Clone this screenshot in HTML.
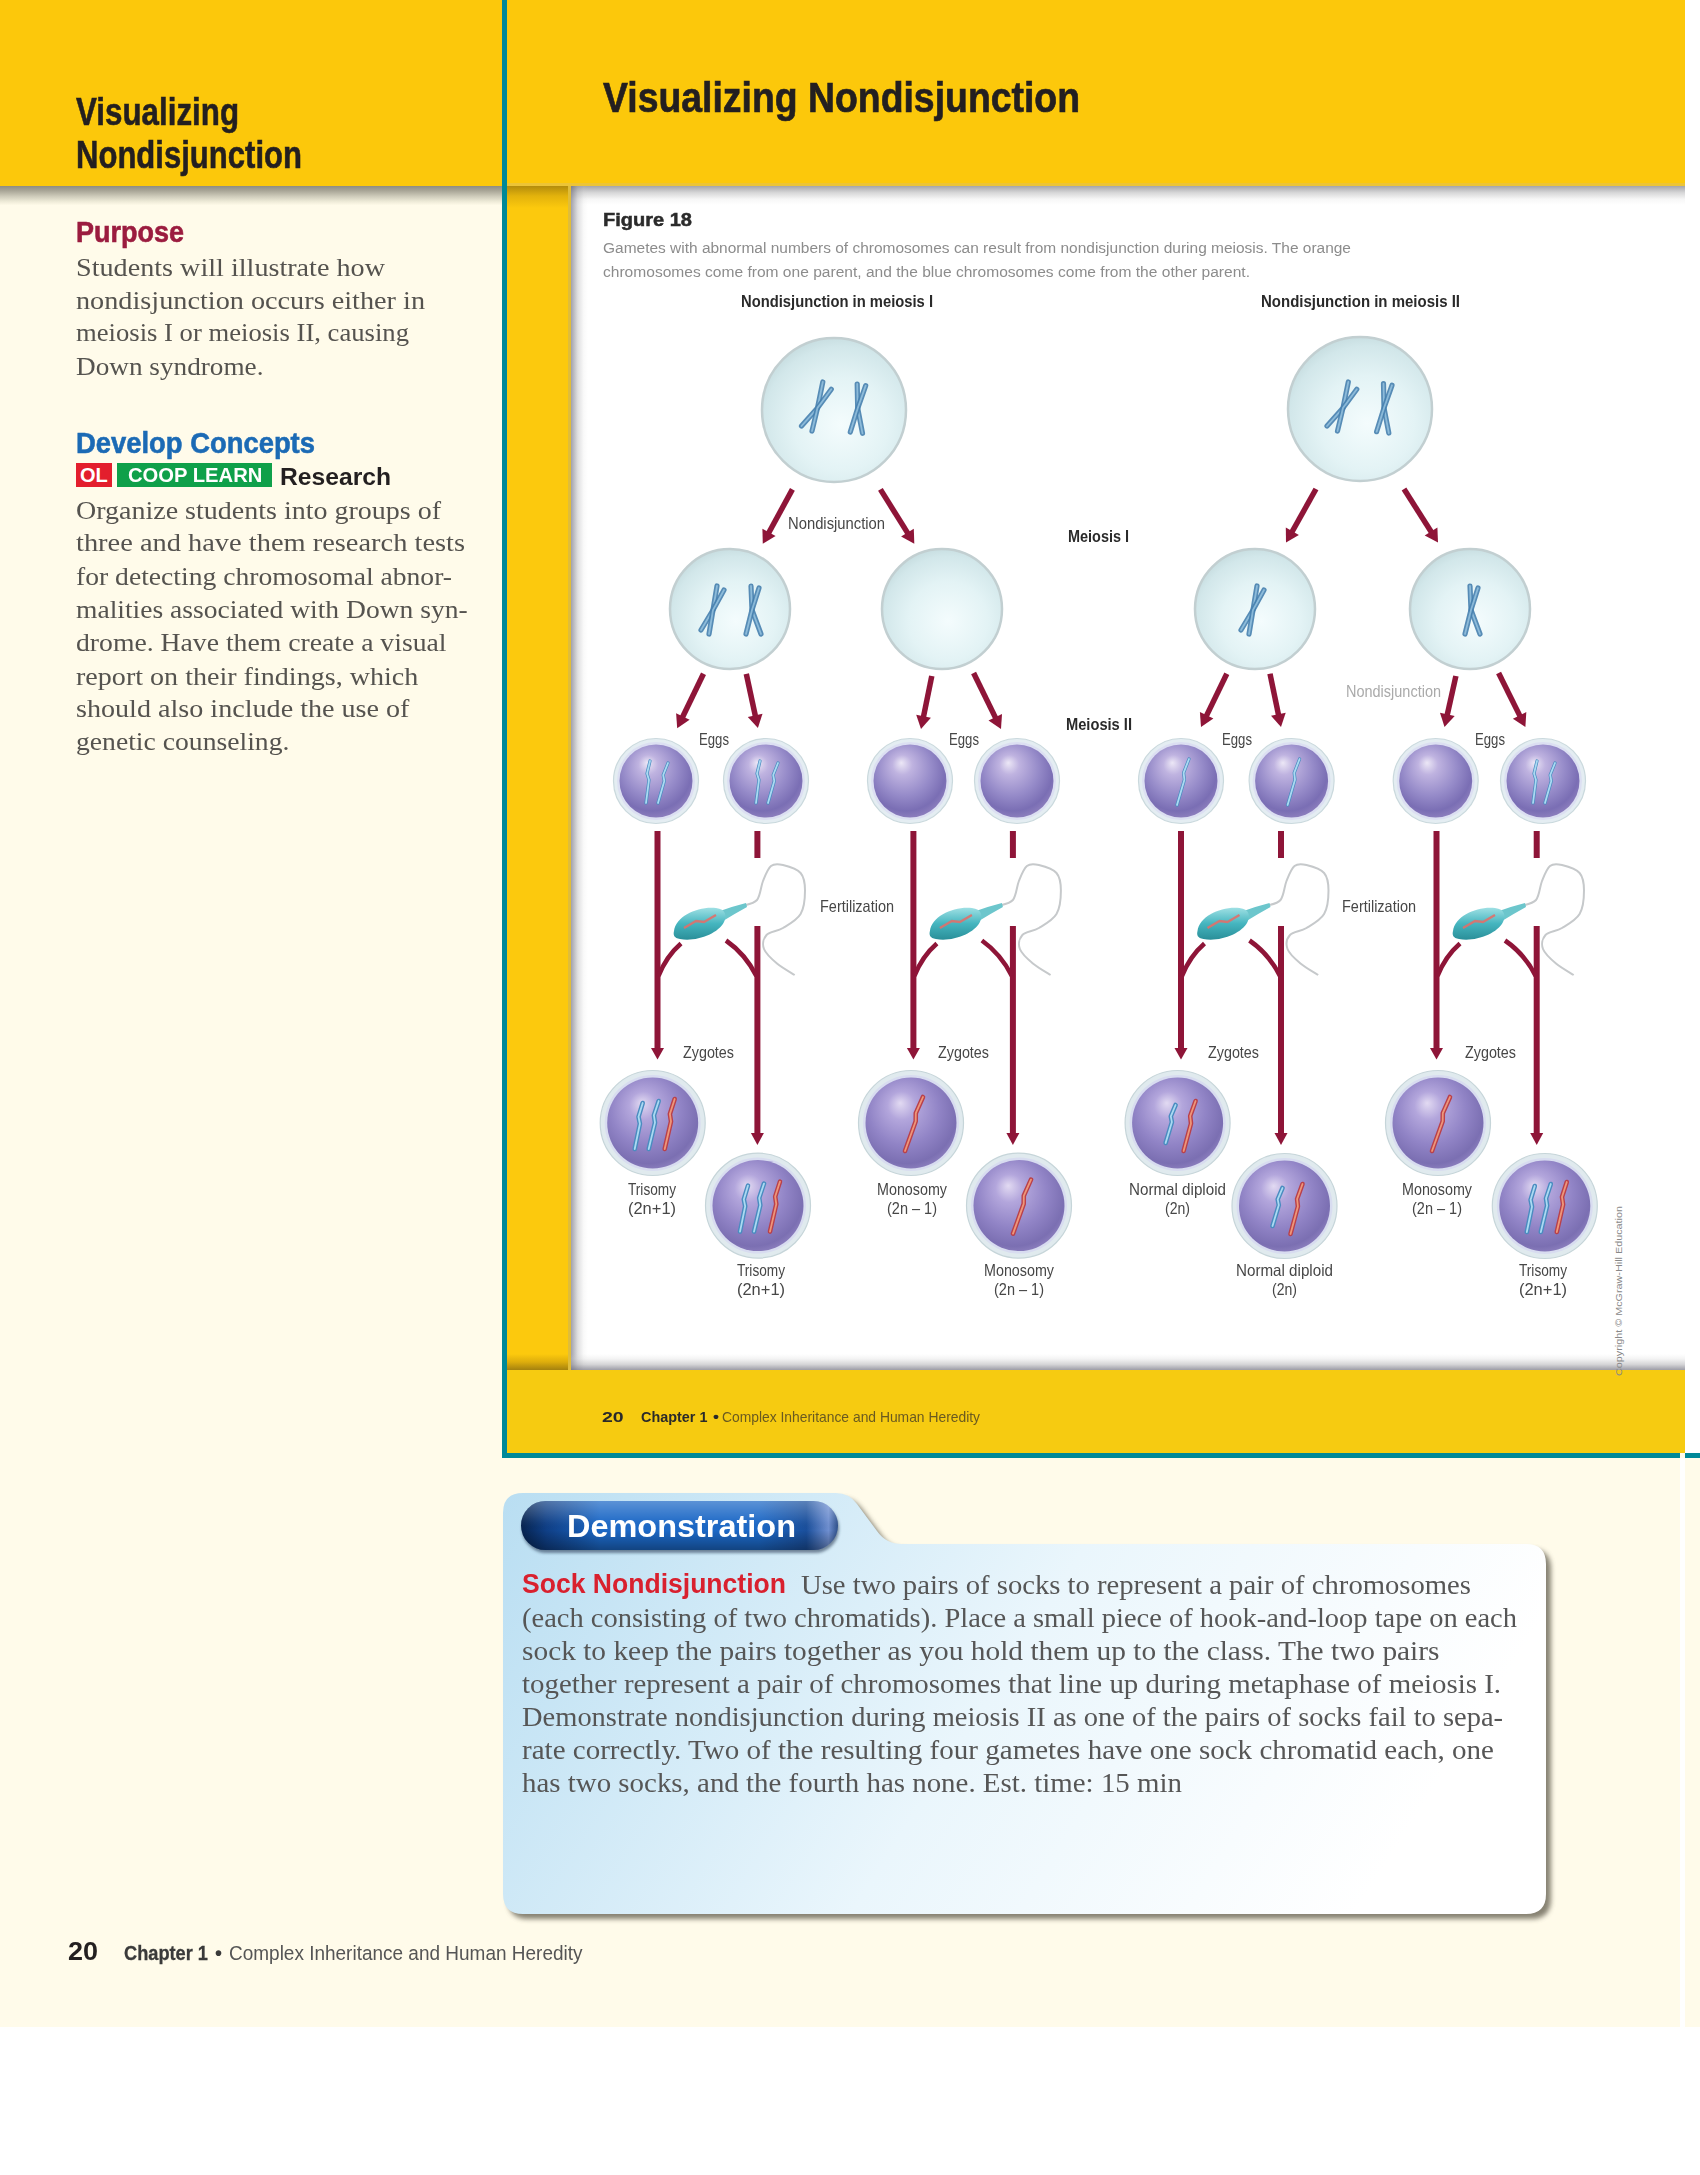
<!DOCTYPE html>
<html><head><meta charset="utf-8">
<style>
html,body{margin:0;padding:0;}
body{width:1700px;height:2175px;position:relative;overflow:hidden;background:#fff;font-family:"Liberation Sans",sans-serif;}
.a{position:absolute;}
.t{position:absolute;white-space:nowrap;line-height:1;}
</style></head><body>
<!-- cream page background -->
<div class="a" style="left:0;top:0;width:1700px;height:2027px;background:#fffbea;"></div>
<div class="a" style="left:1680px;top:1458px;width:5px;height:569px;background:#fff;"></div>
<!-- header yellow -->
<div class="a" style="left:0;top:0;width:1685px;height:186px;background:#fcc80b;"></div>
<div class="a" style="left:507px;top:183px;width:1178px;height:3px;background:#ecc436;"></div>
<div class="a" style="left:1685px;top:0;width:15px;height:1453px;background:#fff;"></div>
<!-- left header shadow -->
<div class="a" style="left:0;top:186px;width:502px;height:19px;background:linear-gradient(#8f8d80,#a9a697 25%,#cfccbb 55%,#ece9d6 80%,#fefae8);"></div>

<!-- inset: yellow strip -->
<div class="a" style="left:507px;top:186px;width:61px;height:1184px;background:#fcc90d;"></div>
<div class="a" style="left:507px;top:186px;width:61px;height:22px;background:linear-gradient(rgba(120,90,10,.55),rgba(150,110,10,.25) 45%,rgba(252,201,13,0));"></div>
<div class="a" style="left:507px;top:1354px;width:61px;height:16px;background:linear-gradient(rgba(150,110,10,0),rgba(150,110,10,.3) 50%,rgba(110,85,15,.62));"></div>
<div class="a" style="left:568px;top:186px;width:3px;height:1184px;background:#e0bd3a;"></div>
<!-- white figure area -->
<div class="a" style="left:571px;top:186px;width:1129px;height:1184px;background:#fff;"></div>
<div class="a" style="left:571px;top:186px;width:1114px;height:19px;background:linear-gradient(rgba(110,110,115,.62),rgba(140,140,142,.35) 35%,rgba(190,190,190,.12) 70%,rgba(255,255,255,0));"></div>
<div class="a" style="left:571px;top:186px;width:17px;height:1184px;background:linear-gradient(90deg,rgba(100,100,115,.6),rgba(150,150,155,.3) 40%,rgba(200,200,200,.1) 75%,rgba(255,255,255,0));"></div>
<div class="a" style="left:571px;top:1354px;width:1114px;height:16px;background:linear-gradient(rgba(255,255,255,0),rgba(200,200,200,.2) 30%,rgba(150,150,155,.4) 65%,rgba(110,110,125,.68));"></div>
<!-- inset footer -->
<div class="a" style="left:507px;top:1370px;width:1178px;height:83px;background:#f6cb11;"></div>
<!-- teal lines -->
<div class="a" style="left:502px;top:0;width:5px;height:1458px;background:#008898;"></div>
<div class="a" style="left:502px;top:1453px;width:1178px;height:5px;background:#008898;"></div>
<div class="a" style="left:1685px;top:1453px;width:15px;height:5px;background:#008898;"></div>

<!-- badges -->
<div class="a" style="left:76px;top:463px;width:36px;height:24px;background:#e31e2d;"></div>
<div class="a" style="left:117px;top:463px;width:155px;height:24px;background:#0fa04a;"></div>
<div class="t" style="left:80px;top:465px;font-size:20px;font-weight:bold;color:#fff;">OL</div>
<div class="t" style="left:128px;top:465px;font-size:20px;font-weight:bold;color:#fff;transform:scaleX(1.01);transform-origin:0 0;">COOP LEARN</div>

<!-- demonstration box -->
<svg class="a" style="left:0;top:0;" width="1700" height="2175" viewBox="0 0 1700 2175">
  <defs>
    <linearGradient id="demog" x1="503" y1="1493" x2="1300" y2="2000" gradientUnits="userSpaceOnUse">
      <stop offset="0" stop-color="#b9def2"/>
      <stop offset="0.55" stop-color="#eaf6fc"/>
      <stop offset="1" stop-color="#ffffff"/>
    </linearGradient>
    <filter id="dsh" x="-5%" y="-5%" width="112%" height="115%">
      <feGaussianBlur stdDeviation="2.5"/>
    </filter>
    <linearGradient id="pill" x1="0" y1="0" x2="1" y2="0">
      <stop offset="0" stop-color="#06234f"/>
      <stop offset="0.08" stop-color="#0f3f86"/>
      <stop offset="0.25" stop-color="#1c68c6"/>
      <stop offset="0.75" stop-color="#1c68c6"/>
      <stop offset="0.9" stop-color="#1a4f9c"/>
      <stop offset="0.97" stop-color="#6f8fd0"/>
      <stop offset="1" stop-color="#2d4f8a"/>
    </linearGradient>
    <linearGradient id="pillv" x1="0" y1="0" x2="0" y2="1">
      <stop offset="0" stop-color="#ffffff" stop-opacity=".28"/>
      <stop offset="0.4" stop-color="#ffffff" stop-opacity=".05"/>
      <stop offset="0.6" stop-color="#000000" stop-opacity="0"/>
      <stop offset="1" stop-color="#000000" stop-opacity=".35"/>
    </linearGradient>
    <filter id="psh" x="-5%" y="-20%" width="110%" height="150%"><feGaussianBlur stdDeviation="1.5"/></filter>
  </defs>
  <path id="demobox" d="M503,1513 Q503,1493 523,1493 L836,1493 Q849,1493 857,1504 L877,1531 Q886,1544 902,1544 L1526,1544 Q1546,1544 1546,1564 L1546,1894 Q1546,1914 1526,1914 L523,1914 Q503,1914 503,1894 Z" fill="#5e5a4c" opacity=".75" transform="translate(5,5)" filter="url(#dsh)"/>
  <path d="M503,1513 Q503,1493 523,1493 L836,1493 Q849,1493 857,1504 L877,1531 Q886,1544 902,1544 L1526,1544 Q1546,1544 1546,1564 L1546,1894 Q1546,1914 1526,1914 L523,1914 Q503,1914 503,1894 Z" fill="url(#demog)"/>
  <rect x="522" y="1504" width="317" height="49" rx="24.5" fill="#1d2f4a" opacity=".55" filter="url(#psh)"/>
  <rect x="521" y="1501" width="317" height="49" rx="24.5" fill="url(#pill)"/>
  <rect x="521" y="1501" width="317" height="49" rx="24.5" fill="url(#pillv)"/>
</svg>

<svg class="a" style="left:0;top:0;" width="1700" height="2175" viewBox="0 0 1700 2175">
<defs>
<radialGradient id="cellg" cx="0.55" cy="0.6" r="0.6">
 <stop offset="0" stop-color="#f4fcfd"/><stop offset="0.55" stop-color="#e3f3f5"/><stop offset="0.9" stop-color="#d2e7ea"/><stop offset="1" stop-color="#c9dfe2"/>
</radialGradient>
<radialGradient id="eggg" cx="0.45" cy="0.38" r="0.62" fx="0.38" fy="0.25">
 <stop offset="0" stop-color="#ece7f6"/><stop offset="0.22" stop-color="#bfb3e0"/><stop offset="0.6" stop-color="#968bc9"/><stop offset="0.88" stop-color="#7a6eb4"/><stop offset="1" stop-color="#8a7cbc"/>
</radialGradient>
<radialGradient id="zygg" cx="0.45" cy="0.4" r="0.62" fx="0.38" fy="0.28">
 <stop offset="0" stop-color="#e2daf2"/><stop offset="0.25" stop-color="#b3a6dc"/><stop offset="0.62" stop-color="#9184c6"/><stop offset="0.9" stop-color="#7b6fb2"/><stop offset="1" stop-color="#8b7ebd"/>
</radialGradient>
<linearGradient id="spermg" x1="0" y1="0" x2="0" y2="1">
 <stop offset="0" stop-color="#9fe0e4"/><stop offset="0.5" stop-color="#45b5bf"/><stop offset="1" stop-color="#2a8f99"/>
</linearGradient>
<filter id="soft" x="-20%" y="-20%" width="140%" height="140%"><feGaussianBlur stdDeviation="0.6"/></filter>
</defs>
<circle cx="834" cy="410" r="72" fill="url(#cellg)" stroke="#c2cfd1" stroke-width="2.5"/>
<path d="M822.8,382.0 Q818.8,401.5 817.5,408.0 Q813.5,412.5 801.5,426.0" stroke="#4680ae" stroke-width="5.2" fill="none" stroke-linecap="round" stroke-linejoin="round" opacity=".9"/>
<path d="M822.8,382.0 Q818.8,401.5 817.5,408.0 Q813.5,412.5 801.5,426.0" stroke="#9fcbe6" stroke-width="1.8" fill="none" stroke-linecap="round" opacity=".75"/>
<path d="M831.3,389.3 Q821.0,403.3 817.5,408.0 Q816.1,413.8 812.0,431.0" stroke="#4680ae" stroke-width="5.2" fill="none" stroke-linecap="round" stroke-linejoin="round" opacity=".9"/>
<path d="M831.3,389.3 Q821.0,403.3 817.5,408.0 Q816.1,413.8 812.0,431.0" stroke="#9fcbe6" stroke-width="1.8" fill="none" stroke-linecap="round" opacity=".75"/>
<path d="M857.2,384.0 Q857.6,402.2 857.7,408.3 Q858.9,414.6 862.5,433.3" stroke="#4680ae" stroke-width="5.2" fill="none" stroke-linecap="round" stroke-linejoin="round" opacity=".9"/>
<path d="M857.2,384.0 Q857.6,402.2 857.7,408.3 Q858.9,414.6 862.5,433.3" stroke="#9fcbe6" stroke-width="1.8" fill="none" stroke-linecap="round" opacity=".75"/>
<path d="M865.7,385.6 Q859.7,402.6 857.7,408.3 Q855.9,414.2 850.3,432.0" stroke="#4680ae" stroke-width="5.2" fill="none" stroke-linecap="round" stroke-linejoin="round" opacity=".9"/>
<path d="M865.7,385.6 Q859.7,402.6 857.7,408.3 Q855.9,414.2 850.3,432.0" stroke="#9fcbe6" stroke-width="1.8" fill="none" stroke-linecap="round" opacity=".75"/>
<circle cx="1360" cy="409" r="72" fill="url(#cellg)" stroke="#c2cfd1" stroke-width="2.5"/>
<path d="M1348.3,382.0 Q1344.3,401.5 1343.0,408.0 Q1339.0,412.5 1327.0,426.0" stroke="#4680ae" stroke-width="5.2" fill="none" stroke-linecap="round" stroke-linejoin="round" opacity=".9"/>
<path d="M1348.3,382.0 Q1344.3,401.5 1343.0,408.0 Q1339.0,412.5 1327.0,426.0" stroke="#9fcbe6" stroke-width="1.8" fill="none" stroke-linecap="round" opacity=".75"/>
<path d="M1356.8,389.3 Q1346.5,403.3 1343.0,408.0 Q1341.6,413.8 1337.5,431.0" stroke="#4680ae" stroke-width="5.2" fill="none" stroke-linecap="round" stroke-linejoin="round" opacity=".9"/>
<path d="M1356.8,389.3 Q1346.5,403.3 1343.0,408.0 Q1341.6,413.8 1337.5,431.0" stroke="#9fcbe6" stroke-width="1.8" fill="none" stroke-linecap="round" opacity=".75"/>
<path d="M1383.5,383.7 Q1383.9,401.9 1384.0,408.0 Q1385.2,414.2 1388.8,433.0" stroke="#4680ae" stroke-width="5.2" fill="none" stroke-linecap="round" stroke-linejoin="round" opacity=".9"/>
<path d="M1383.5,383.7 Q1383.9,401.9 1384.0,408.0 Q1385.2,414.2 1388.8,433.0" stroke="#9fcbe6" stroke-width="1.8" fill="none" stroke-linecap="round" opacity=".75"/>
<path d="M1392.0,385.3 Q1386.0,402.3 1384.0,408.0 Q1382.2,413.9 1376.6,431.7" stroke="#4680ae" stroke-width="5.2" fill="none" stroke-linecap="round" stroke-linejoin="round" opacity=".9"/>
<path d="M1392.0,385.3 Q1386.0,402.3 1384.0,408.0 Q1382.2,413.9 1376.6,431.7" stroke="#9fcbe6" stroke-width="1.8" fill="none" stroke-linecap="round" opacity=".75"/>
<circle cx="730" cy="609" r="60" fill="url(#cellg)" stroke="#c2cfd1" stroke-width="2.5"/>
<path d="M717.0,586.0 Q714.0,604.0 713.0,610.0 Q710.0,615.0 701.0,630.0" stroke="#4680ae" stroke-width="5.2" fill="none" stroke-linecap="round" stroke-linejoin="round" opacity=".9"/>
<path d="M717.0,586.0 Q714.0,604.0 713.0,610.0 Q710.0,615.0 701.0,630.0" stroke="#9fcbe6" stroke-width="1.8" fill="none" stroke-linecap="round" opacity=".75"/>
<path d="M724.0,590.0 Q715.8,605.0 713.0,610.0 Q712.0,616.0 709.0,634.0" stroke="#4680ae" stroke-width="5.2" fill="none" stroke-linecap="round" stroke-linejoin="round" opacity=".9"/>
<path d="M724.0,590.0 Q715.8,605.0 713.0,610.0 Q712.0,616.0 709.0,634.0" stroke="#9fcbe6" stroke-width="1.8" fill="none" stroke-linecap="round" opacity=".75"/>
<path d="M751.0,586.0 Q751.8,604.0 752.0,610.0 Q754.2,616.0 761.0,634.0" stroke="#4680ae" stroke-width="5.2" fill="none" stroke-linecap="round" stroke-linejoin="round" opacity=".9"/>
<path d="M751.0,586.0 Q751.8,604.0 752.0,610.0 Q754.2,616.0 761.0,634.0" stroke="#9fcbe6" stroke-width="1.8" fill="none" stroke-linecap="round" opacity=".75"/>
<path d="M759.0,588.0 Q753.8,604.5 752.0,610.0 Q750.5,616.0 746.0,634.0" stroke="#4680ae" stroke-width="5.2" fill="none" stroke-linecap="round" stroke-linejoin="round" opacity=".9"/>
<path d="M759.0,588.0 Q753.8,604.5 752.0,610.0 Q750.5,616.0 746.0,634.0" stroke="#9fcbe6" stroke-width="1.8" fill="none" stroke-linecap="round" opacity=".75"/>
<circle cx="942" cy="609" r="60" fill="url(#cellg)" stroke="#c2cfd1" stroke-width="2.5"/>
<circle cx="1255" cy="609" r="60" fill="url(#cellg)" stroke="#c2cfd1" stroke-width="2.5"/>
<path d="M1257.0,586.0 Q1254.0,604.0 1253.0,610.0 Q1250.0,615.0 1241.0,630.0" stroke="#4680ae" stroke-width="5.2" fill="none" stroke-linecap="round" stroke-linejoin="round" opacity=".9"/>
<path d="M1257.0,586.0 Q1254.0,604.0 1253.0,610.0 Q1250.0,615.0 1241.0,630.0" stroke="#9fcbe6" stroke-width="1.8" fill="none" stroke-linecap="round" opacity=".75"/>
<path d="M1264.0,590.0 Q1255.8,605.0 1253.0,610.0 Q1252.0,616.0 1249.0,634.0" stroke="#4680ae" stroke-width="5.2" fill="none" stroke-linecap="round" stroke-linejoin="round" opacity=".9"/>
<path d="M1264.0,590.0 Q1255.8,605.0 1253.0,610.0 Q1252.0,616.0 1249.0,634.0" stroke="#9fcbe6" stroke-width="1.8" fill="none" stroke-linecap="round" opacity=".75"/>
<circle cx="1470" cy="609" r="60" fill="url(#cellg)" stroke="#c2cfd1" stroke-width="2.5"/>
<path d="M1470.0,586.0 Q1470.8,604.0 1471.0,610.0 Q1473.2,616.0 1480.0,634.0" stroke="#4680ae" stroke-width="5.2" fill="none" stroke-linecap="round" stroke-linejoin="round" opacity=".9"/>
<path d="M1470.0,586.0 Q1470.8,604.0 1471.0,610.0 Q1473.2,616.0 1480.0,634.0" stroke="#9fcbe6" stroke-width="1.8" fill="none" stroke-linecap="round" opacity=".75"/>
<path d="M1478.0,588.0 Q1472.8,604.5 1471.0,610.0 Q1469.5,616.0 1465.0,634.0" stroke="#4680ae" stroke-width="5.2" fill="none" stroke-linecap="round" stroke-linejoin="round" opacity=".9"/>
<path d="M1478.0,588.0 Q1472.8,604.5 1471.0,610.0 Q1469.5,616.0 1465.0,634.0" stroke="#9fcbe6" stroke-width="1.8" fill="none" stroke-linecap="round" opacity=".75"/>
<line x1="792.4" y1="489.4" x2="768.1" y2="534.0" stroke="#8e1538" stroke-width="5.5"/>
<polygon points="762.8,543.7 762.4,528.7 775.6,535.9" fill="#8e1538"/>
<line x1="880.4" y1="489.4" x2="908.5" y2="534.4" stroke="#8e1538" stroke-width="5.5"/>
<polygon points="914.3,543.7 901.1,536.6 913.8,528.7" fill="#8e1538"/>
<line x1="1316" y1="489" x2="1291.4" y2="533.0" stroke="#8e1538" stroke-width="5.5"/>
<polygon points="1286,542.6 1285.8,527.6 1298.9,534.9" fill="#8e1538"/>
<line x1="1404" y1="489" x2="1432.1" y2="533.3" stroke="#8e1538" stroke-width="5.5"/>
<polygon points="1438,542.6 1424.7,535.6 1437.4,527.6" fill="#8e1538"/>
<line x1="703.5" y1="673.8" x2="682.0" y2="718.3" stroke="#8e1538" stroke-width="5.5"/>
<polygon points="677.2,728.2 676.1,713.2 689.6,719.8" fill="#8e1538"/>
<line x1="746.3" y1="673.8" x2="755.6" y2="717.2" stroke="#8e1538" stroke-width="5.5"/>
<polygon points="757.9,728 747.8,716.9 762.5,713.7" fill="#8e1538"/>
<line x1="931.8" y1="676" x2="923.2" y2="718.2" stroke="#8e1538" stroke-width="5.5"/>
<polygon points="921,729 916.2,714.8 930.9,717.8" fill="#8e1538"/>
<line x1="973.6" y1="673" x2="996.2" y2="719.1" stroke="#8e1538" stroke-width="5.5"/>
<polygon points="1001,729 988.5,720.6 1002.0,714.0" fill="#8e1538"/>
<line x1="1226.8" y1="673.7" x2="1205.8" y2="717.1" stroke="#8e1538" stroke-width="5.5"/>
<polygon points="1201,727 1199.9,712.0 1213.4,718.6" fill="#8e1538"/>
<line x1="1270" y1="673.7" x2="1278.8" y2="716.2" stroke="#8e1538" stroke-width="5.5"/>
<polygon points="1281,727 1271.0,715.8 1285.7,712.8" fill="#8e1538"/>
<line x1="1455.9" y1="676" x2="1446.9" y2="716.3" stroke="#8e1538" stroke-width="5.5"/>
<polygon points="1444.5,727 1440.0,712.7 1454.7,715.9" fill="#8e1538"/>
<line x1="1498.6" y1="673" x2="1520.5" y2="717.1" stroke="#8e1538" stroke-width="5.5"/>
<polygon points="1525.4,727 1512.9,718.7 1526.3,712.0" fill="#8e1538"/>
<circle cx="656" cy="781" r="42.5" fill="#e4edf2" stroke="#cad9dd" stroke-width="1.2"/>
<circle cx="656" cy="781" r="39" fill="#dcdff2"/>
<circle cx="656" cy="781" r="36.5" fill="url(#eggg)"/>
<circle cx="766" cy="781" r="42.5" fill="#e4edf2" stroke="#cad9dd" stroke-width="1.2"/>
<circle cx="766" cy="781" r="39" fill="#dcdff2"/>
<circle cx="766" cy="781" r="36.5" fill="url(#eggg)"/>
<circle cx="910" cy="781" r="42.5" fill="#e4edf2" stroke="#cad9dd" stroke-width="1.2"/>
<circle cx="910" cy="781" r="39" fill="#dcdff2"/>
<circle cx="910" cy="781" r="36.5" fill="url(#eggg)"/>
<circle cx="1017" cy="781" r="42.5" fill="#e4edf2" stroke="#cad9dd" stroke-width="1.2"/>
<circle cx="1017" cy="781" r="39" fill="#dcdff2"/>
<circle cx="1017" cy="781" r="36.5" fill="url(#eggg)"/>
<circle cx="1181" cy="781" r="42.5" fill="#e4edf2" stroke="#cad9dd" stroke-width="1.2"/>
<circle cx="1181" cy="781" r="39" fill="#dcdff2"/>
<circle cx="1181" cy="781" r="36.5" fill="url(#eggg)"/>
<circle cx="1291.6" cy="781" r="42.5" fill="#e4edf2" stroke="#cad9dd" stroke-width="1.2"/>
<circle cx="1291.6" cy="781" r="39" fill="#dcdff2"/>
<circle cx="1291.6" cy="781" r="36.5" fill="url(#eggg)"/>
<circle cx="1435.7" cy="781" r="42.5" fill="#e4edf2" stroke="#cad9dd" stroke-width="1.2"/>
<circle cx="1435.7" cy="781" r="39" fill="#dcdff2"/>
<circle cx="1435.7" cy="781" r="36.5" fill="url(#eggg)"/>
<circle cx="1543" cy="781" r="42.5" fill="#e4edf2" stroke="#cad9dd" stroke-width="1.2"/>
<circle cx="1543" cy="781" r="39" fill="#dcdff2"/>
<circle cx="1543" cy="781" r="36.5" fill="url(#eggg)"/>
<path d="M650.0,761.0 L647.0,773.6 L649.0,779.9 L646.0,803.0" stroke="#4a8cc0" stroke-width="3.2" fill="none" stroke-linecap="round" stroke-linejoin="round"/>
<path d="M650.0,761.0 L647.0,773.6 L649.0,779.9 L646.0,803.0" stroke="#b5e2f7" stroke-width="1.8" fill="none" stroke-linecap="round" stroke-linejoin="round" opacity=".9"/>
<path d="M668.0,763.0 L663.2,775.0 L664.3,781.0 L658.0,803.0" stroke="#4a8cc0" stroke-width="3.2" fill="none" stroke-linecap="round" stroke-linejoin="round"/>
<path d="M668.0,763.0 L663.2,775.0 L664.3,781.0 L658.0,803.0" stroke="#b5e2f7" stroke-width="1.8" fill="none" stroke-linecap="round" stroke-linejoin="round" opacity=".9"/>
<path d="M760.0,761.0 L757.0,773.6 L759.0,779.9 L756.0,803.0" stroke="#4a8cc0" stroke-width="3.2" fill="none" stroke-linecap="round" stroke-linejoin="round"/>
<path d="M760.0,761.0 L757.0,773.6 L759.0,779.9 L756.0,803.0" stroke="#b5e2f7" stroke-width="1.8" fill="none" stroke-linecap="round" stroke-linejoin="round" opacity=".9"/>
<path d="M778.0,763.0 L773.2,775.0 L774.3,781.0 L768.0,803.0" stroke="#4a8cc0" stroke-width="3.2" fill="none" stroke-linecap="round" stroke-linejoin="round"/>
<path d="M778.0,763.0 L773.2,775.0 L774.3,781.0 L768.0,803.0" stroke="#b5e2f7" stroke-width="1.8" fill="none" stroke-linecap="round" stroke-linejoin="round" opacity=".9"/>
<path d="M1189.0,759.0 L1183.6,772.8 L1184.4,779.7 L1177.0,805.0" stroke="#4a8cc0" stroke-width="3.2" fill="none" stroke-linecap="round" stroke-linejoin="round"/>
<path d="M1189.0,759.0 L1183.6,772.8 L1184.4,779.7 L1177.0,805.0" stroke="#b5e2f7" stroke-width="1.8" fill="none" stroke-linecap="round" stroke-linejoin="round" opacity=".9"/>
<path d="M1299.6,759.0 L1294.2,772.8 L1295.0,779.7 L1287.6,805.0" stroke="#4a8cc0" stroke-width="3.2" fill="none" stroke-linecap="round" stroke-linejoin="round"/>
<path d="M1299.6,759.0 L1294.2,772.8 L1295.0,779.7 L1287.6,805.0" stroke="#b5e2f7" stroke-width="1.8" fill="none" stroke-linecap="round" stroke-linejoin="round" opacity=".9"/>
<path d="M1537.0,761.0 L1534.0,773.6 L1536.0,779.9 L1533.0,803.0" stroke="#4a8cc0" stroke-width="3.2" fill="none" stroke-linecap="round" stroke-linejoin="round"/>
<path d="M1537.0,761.0 L1534.0,773.6 L1536.0,779.9 L1533.0,803.0" stroke="#b5e2f7" stroke-width="1.8" fill="none" stroke-linecap="round" stroke-linejoin="round" opacity=".9"/>
<path d="M1555.0,763.0 L1550.2,775.0 L1551.3,781.0 L1545.0,803.0" stroke="#4a8cc0" stroke-width="3.2" fill="none" stroke-linecap="round" stroke-linejoin="round"/>
<path d="M1555.0,763.0 L1550.2,775.0 L1551.3,781.0 L1545.0,803.0" stroke="#b5e2f7" stroke-width="1.8" fill="none" stroke-linecap="round" stroke-linejoin="round" opacity=".9"/>
<line x1="657.5" y1="831" x2="657.5" y2="1049" stroke="#8e1538" stroke-width="6"/>
<polygon points="651.0,1048 664.0,1048 657.5,1059.5" fill="#8e1538"/>
<line x1="757.4" y1="831" x2="757.4" y2="858" stroke="#8e1538" stroke-width="6"/>
<line x1="757.4" y1="926" x2="757.4" y2="1134" stroke="#8e1538" stroke-width="6"/>
<polygon points="750.9,1133 763.9,1133 757.4,1145" fill="#8e1538"/>
<path d="M681.0,943.5 Q666.5,956 658.5,976" stroke="#8e1538" stroke-width="4.6" fill="none"/>
<path d="M726.0,940.5 Q745.4,954 756.4,976" stroke="#8e1538" stroke-width="4.6" fill="none"/>
<path d="M742.0,906.0 C744.5,905.0 753.5,904.2 757.0,900.0 C760.5,895.8 760.7,886.7 763.0,881.0 C765.3,875.3 767.7,868.7 771.0,866.0 C774.3,863.3 778.1,863.8 783.0,865.0 C787.9,866.2 796.9,868.7 800.6,873.0 C804.3,877.3 805.0,883.8 805.0,890.6 C805.0,897.4 804.3,907.8 800.6,914.0 C796.9,920.2 788.7,924.5 783.0,928.0 C777.3,931.5 769.7,931.5 766.5,935.0 C763.3,938.5 762.2,944.2 764.0,949.0 C765.8,953.8 771.9,959.2 777.0,963.5 C782.1,967.8 791.8,973.1 794.7,975.0" stroke="#c6c9cb" stroke-width="2" fill="none"/>
<path d="M720.0,911 Q734.0,906 746.0,903 L747.0,907 Q736.0,913 723.0,921 Z" fill="#6cc6cc"/>
<path d="M674.0,931 C676.0,916 698.0,906 716.0,908 C726.0,909 727.0,916 724.0,922 C718.0,934 696.0,942 680.0,939 C674.0,938 673.0,935 674.0,931 Z" fill="url(#spermg)"/>
<path d="M684.0,928 L696.0,921 L704.0,922 L716.0,915" stroke="#e0706a" stroke-width="2.4" fill="none" opacity=".9"/>
<line x1="913.4" y1="831" x2="913.4" y2="1049" stroke="#8e1538" stroke-width="6"/>
<polygon points="906.9,1048 919.9,1048 913.4,1059.5" fill="#8e1538"/>
<line x1="1012.9" y1="831" x2="1012.9" y2="858" stroke="#8e1538" stroke-width="6"/>
<line x1="1012.9" y1="926" x2="1012.9" y2="1134" stroke="#8e1538" stroke-width="6"/>
<polygon points="1006.4,1133 1019.4,1133 1012.9,1145" fill="#8e1538"/>
<path d="M936.9,943.5 Q922.4,956 914.4,976" stroke="#8e1538" stroke-width="4.6" fill="none"/>
<path d="M981.9,940.5 Q1000.9,954 1011.9,976" stroke="#8e1538" stroke-width="4.6" fill="none"/>
<path d="M997.9,906.0 C1000.4,905.0 1009.4,904.2 1012.9,900.0 C1016.4,895.8 1016.6,886.7 1018.9,881.0 C1021.2,875.3 1023.6,868.7 1026.9,866.0 C1030.2,863.3 1034.0,863.8 1038.9,865.0 C1043.8,866.2 1052.8,868.7 1056.5,873.0 C1060.2,877.3 1060.9,883.8 1060.9,890.6 C1060.9,897.4 1060.2,907.8 1056.5,914.0 C1052.8,920.2 1044.6,924.5 1038.9,928.0 C1033.2,931.5 1025.6,931.5 1022.4,935.0 C1019.2,938.5 1018.1,944.2 1019.9,949.0 C1021.6,953.8 1027.8,959.2 1032.9,963.5 C1038.0,967.8 1047.6,973.1 1050.6,975.0" stroke="#c6c9cb" stroke-width="2" fill="none"/>
<path d="M975.9,911 Q989.9,906 1001.9,903 L1002.9,907 Q991.9,913 978.9,921 Z" fill="#6cc6cc"/>
<path d="M929.9,931 C931.9,916 953.9,906 971.9,908 C981.9,909 982.9,916 979.9,922 C973.9,934 951.9,942 935.9,939 C929.9,938 928.9,935 929.9,931 Z" fill="url(#spermg)"/>
<path d="M939.9,928 L951.9,921 L959.9,922 L971.9,915" stroke="#e0706a" stroke-width="2.4" fill="none" opacity=".9"/>
<line x1="1181" y1="831" x2="1181" y2="1049" stroke="#8e1538" stroke-width="6"/>
<polygon points="1174.5,1048 1187.5,1048 1181,1059.5" fill="#8e1538"/>
<line x1="1281" y1="831" x2="1281" y2="858" stroke="#8e1538" stroke-width="6"/>
<line x1="1281" y1="926" x2="1281" y2="1134" stroke="#8e1538" stroke-width="6"/>
<polygon points="1274.5,1133 1287.5,1133 1281,1145" fill="#8e1538"/>
<path d="M1204.5,943.5 Q1190,956 1182,976" stroke="#8e1538" stroke-width="4.6" fill="none"/>
<path d="M1249.5,940.5 Q1269,954 1280,976" stroke="#8e1538" stroke-width="4.6" fill="none"/>
<path d="M1265.5,906.0 C1268.0,905.0 1277.0,904.2 1280.5,900.0 C1284.0,895.8 1284.2,886.7 1286.5,881.0 C1288.8,875.3 1291.2,868.7 1294.5,866.0 C1297.8,863.3 1301.6,863.8 1306.5,865.0 C1311.4,866.2 1320.4,868.7 1324.1,873.0 C1327.8,877.3 1328.5,883.8 1328.5,890.6 C1328.5,897.4 1327.8,907.8 1324.1,914.0 C1320.4,920.2 1312.2,924.5 1306.5,928.0 C1300.8,931.5 1293.2,931.5 1290.0,935.0 C1286.8,938.5 1285.8,944.2 1287.5,949.0 C1289.2,953.8 1295.4,959.2 1300.5,963.5 C1305.6,967.8 1315.2,973.1 1318.2,975.0" stroke="#c6c9cb" stroke-width="2" fill="none"/>
<path d="M1243.5,911 Q1257.5,906 1269.5,903 L1270.5,907 Q1259.5,913 1246.5,921 Z" fill="#6cc6cc"/>
<path d="M1197.5,931 C1199.5,916 1221.5,906 1239.5,908 C1249.5,909 1250.5,916 1247.5,922 C1241.5,934 1219.5,942 1203.5,939 C1197.5,938 1196.5,935 1197.5,931 Z" fill="url(#spermg)"/>
<path d="M1207.5,928 L1219.5,921 L1227.5,922 L1239.5,915" stroke="#e0706a" stroke-width="2.4" fill="none" opacity=".9"/>
<line x1="1436.5" y1="831" x2="1436.5" y2="1049" stroke="#8e1538" stroke-width="6"/>
<polygon points="1430.0,1048 1443.0,1048 1436.5,1059.5" fill="#8e1538"/>
<line x1="1536.7" y1="831" x2="1536.7" y2="858" stroke="#8e1538" stroke-width="6"/>
<line x1="1536.7" y1="926" x2="1536.7" y2="1134" stroke="#8e1538" stroke-width="6"/>
<polygon points="1530.2,1133 1543.2,1133 1536.7,1145" fill="#8e1538"/>
<path d="M1460.0,943.5 Q1445.5,956 1437.5,976" stroke="#8e1538" stroke-width="4.6" fill="none"/>
<path d="M1505.0,940.5 Q1524.7,954 1535.7,976" stroke="#8e1538" stroke-width="4.6" fill="none"/>
<path d="M1521.0,906.0 C1523.5,905.0 1532.5,904.2 1536.0,900.0 C1539.5,895.8 1539.7,886.7 1542.0,881.0 C1544.3,875.3 1546.7,868.7 1550.0,866.0 C1553.3,863.3 1557.1,863.8 1562.0,865.0 C1566.9,866.2 1575.9,868.7 1579.6,873.0 C1583.3,877.3 1584.0,883.8 1584.0,890.6 C1584.0,897.4 1583.3,907.8 1579.6,914.0 C1575.9,920.2 1567.7,924.5 1562.0,928.0 C1556.3,931.5 1548.7,931.5 1545.5,935.0 C1542.3,938.5 1541.2,944.2 1543.0,949.0 C1544.8,953.8 1550.9,959.2 1556.0,963.5 C1561.1,967.8 1570.8,973.1 1573.7,975.0" stroke="#c6c9cb" stroke-width="2" fill="none"/>
<path d="M1499.0,911 Q1513.0,906 1525.0,903 L1526.0,907 Q1515.0,913 1502.0,921 Z" fill="#6cc6cc"/>
<path d="M1453.0,931 C1455.0,916 1477.0,906 1495.0,908 C1505.0,909 1506.0,916 1503.0,922 C1497.0,934 1475.0,942 1459.0,939 C1453.0,938 1452.0,935 1453.0,931 Z" fill="url(#spermg)"/>
<path d="M1463.0,928 L1475.0,921 L1483.0,922 L1495.0,915" stroke="#e0706a" stroke-width="2.4" fill="none" opacity=".9"/>
<circle cx="652.7" cy="1123" r="52.5" fill="#e0eaee" stroke="#c6d5d9" stroke-width="1.2"/>
<circle cx="652.7" cy="1123" r="48" fill="#d8dcf0"/>
<circle cx="652.7" cy="1123" r="45.5" fill="url(#zygg)"/>
<circle cx="758" cy="1205.6" r="52.5" fill="#e0eaee" stroke="#c6d5d9" stroke-width="1.2"/>
<circle cx="758" cy="1205.6" r="48" fill="#d8dcf0"/>
<circle cx="758" cy="1205.6" r="45.5" fill="url(#zygg)"/>
<circle cx="911" cy="1123" r="52.5" fill="#e0eaee" stroke="#c6d5d9" stroke-width="1.2"/>
<circle cx="911" cy="1123" r="48" fill="#d8dcf0"/>
<circle cx="911" cy="1123" r="45.5" fill="url(#zygg)"/>
<circle cx="1019" cy="1205.6" r="52.5" fill="#e0eaee" stroke="#c6d5d9" stroke-width="1.2"/>
<circle cx="1019" cy="1205.6" r="48" fill="#d8dcf0"/>
<circle cx="1019" cy="1205.6" r="45.5" fill="url(#zygg)"/>
<circle cx="1177.6" cy="1123" r="52.5" fill="#e0eaee" stroke="#c6d5d9" stroke-width="1.2"/>
<circle cx="1177.6" cy="1123" r="48" fill="#d8dcf0"/>
<circle cx="1177.6" cy="1123" r="45.5" fill="url(#zygg)"/>
<circle cx="1284.5" cy="1206" r="52.5" fill="#e0eaee" stroke="#c6d5d9" stroke-width="1.2"/>
<circle cx="1284.5" cy="1206" r="48" fill="#d8dcf0"/>
<circle cx="1284.5" cy="1206" r="45.5" fill="url(#zygg)"/>
<circle cx="1438" cy="1123" r="52.5" fill="#e0eaee" stroke="#c6d5d9" stroke-width="1.2"/>
<circle cx="1438" cy="1123" r="48" fill="#d8dcf0"/>
<circle cx="1438" cy="1123" r="45.5" fill="url(#zygg)"/>
<circle cx="1544.8" cy="1206" r="52.5" fill="#e0eaee" stroke="#c6d5d9" stroke-width="1.2"/>
<circle cx="1544.8" cy="1206" r="48" fill="#d8dcf0"/>
<circle cx="1544.8" cy="1206" r="45.5" fill="url(#zygg)"/>
<path d="M642.7,1103.0 L638.5,1116.8 L639.9,1123.7 L634.7,1149.0" stroke="#4a8cc0" stroke-width="4.6" fill="none" stroke-linecap="round" stroke-linejoin="round"/>
<path d="M642.7,1103.0 L638.5,1116.8 L639.9,1123.7 L634.7,1149.0" stroke="#b5e2f7" stroke-width="1.8" fill="none" stroke-linecap="round" stroke-linejoin="round" opacity=".9"/>
<path d="M658.7,1101.0 L653.9,1115.4 L655.0,1122.6 L648.7,1149.0" stroke="#4a8cc0" stroke-width="4.6" fill="none" stroke-linecap="round" stroke-linejoin="round"/>
<path d="M658.7,1101.0 L653.9,1115.4 L655.0,1122.6 L648.7,1149.0" stroke="#b5e2f7" stroke-width="1.8" fill="none" stroke-linecap="round" stroke-linejoin="round" opacity=".9"/>
<path d="M674.7,1099.0 L669.9,1114.0 L671.0,1121.5 L664.7,1149.0" stroke="#b9404a" stroke-width="4.6" fill="none" stroke-linecap="round" stroke-linejoin="round"/>
<path d="M674.7,1099.0 L669.9,1114.0 L671.0,1121.5 L664.7,1149.0" stroke="#f4a07e" stroke-width="1.8" fill="none" stroke-linecap="round" stroke-linejoin="round" opacity=".9"/>
<path d="M748.0,1185.6 L743.8,1199.4 L745.2,1206.3 L740.0,1231.6" stroke="#4a8cc0" stroke-width="4.6" fill="none" stroke-linecap="round" stroke-linejoin="round"/>
<path d="M748.0,1185.6 L743.8,1199.4 L745.2,1206.3 L740.0,1231.6" stroke="#b5e2f7" stroke-width="1.8" fill="none" stroke-linecap="round" stroke-linejoin="round" opacity=".9"/>
<path d="M764.0,1183.6 L759.2,1198.0 L760.3,1205.2 L754.0,1231.6" stroke="#4a8cc0" stroke-width="4.6" fill="none" stroke-linecap="round" stroke-linejoin="round"/>
<path d="M764.0,1183.6 L759.2,1198.0 L760.3,1205.2 L754.0,1231.6" stroke="#b5e2f7" stroke-width="1.8" fill="none" stroke-linecap="round" stroke-linejoin="round" opacity=".9"/>
<path d="M780.0,1181.6 L775.2,1196.6 L776.3,1204.1 L770.0,1231.6" stroke="#b9404a" stroke-width="4.6" fill="none" stroke-linecap="round" stroke-linejoin="round"/>
<path d="M780.0,1181.6 L775.2,1196.6 L776.3,1204.1 L770.0,1231.6" stroke="#f4a07e" stroke-width="1.8" fill="none" stroke-linecap="round" stroke-linejoin="round" opacity=".9"/>
<path d="M923.0,1097.0 L915.8,1113.2 L915.7,1121.3 L905.0,1151.0" stroke="#b9404a" stroke-width="4.6" fill="none" stroke-linecap="round" stroke-linejoin="round"/>
<path d="M923.0,1097.0 L915.8,1113.2 L915.7,1121.3 L905.0,1151.0" stroke="#f4a07e" stroke-width="1.8" fill="none" stroke-linecap="round" stroke-linejoin="round" opacity=".9"/>
<path d="M1031.0,1179.6 L1023.8,1195.8 L1023.7,1203.9 L1013.0,1233.6" stroke="#b9404a" stroke-width="4.6" fill="none" stroke-linecap="round" stroke-linejoin="round"/>
<path d="M1031.0,1179.6 L1023.8,1195.8 L1023.7,1203.9 L1013.0,1233.6" stroke="#f4a07e" stroke-width="1.8" fill="none" stroke-linecap="round" stroke-linejoin="round" opacity=".9"/>
<path d="M1175.6,1105.0 L1170.8,1116.4 L1171.9,1122.1 L1165.6,1143.0" stroke="#4a8cc0" stroke-width="4.6" fill="none" stroke-linecap="round" stroke-linejoin="round"/>
<path d="M1175.6,1105.0 L1170.8,1116.4 L1171.9,1122.1 L1165.6,1143.0" stroke="#b5e2f7" stroke-width="1.8" fill="none" stroke-linecap="round" stroke-linejoin="round" opacity=".9"/>
<path d="M1195.6,1101.0 L1190.2,1116.0 L1191.0,1123.5 L1183.6,1151.0" stroke="#b9404a" stroke-width="4.6" fill="none" stroke-linecap="round" stroke-linejoin="round"/>
<path d="M1195.6,1101.0 L1190.2,1116.0 L1191.0,1123.5 L1183.6,1151.0" stroke="#f4a07e" stroke-width="1.8" fill="none" stroke-linecap="round" stroke-linejoin="round" opacity=".9"/>
<path d="M1282.5,1188.0 L1277.7,1199.4 L1278.8,1205.1 L1272.5,1226.0" stroke="#4a8cc0" stroke-width="4.6" fill="none" stroke-linecap="round" stroke-linejoin="round"/>
<path d="M1282.5,1188.0 L1277.7,1199.4 L1278.8,1205.1 L1272.5,1226.0" stroke="#b5e2f7" stroke-width="1.8" fill="none" stroke-linecap="round" stroke-linejoin="round" opacity=".9"/>
<path d="M1302.5,1184.0 L1297.1,1199.0 L1297.9,1206.5 L1290.5,1234.0" stroke="#b9404a" stroke-width="4.6" fill="none" stroke-linecap="round" stroke-linejoin="round"/>
<path d="M1302.5,1184.0 L1297.1,1199.0 L1297.9,1206.5 L1290.5,1234.0" stroke="#f4a07e" stroke-width="1.8" fill="none" stroke-linecap="round" stroke-linejoin="round" opacity=".9"/>
<path d="M1450.0,1097.0 L1442.8,1113.2 L1442.7,1121.3 L1432.0,1151.0" stroke="#b9404a" stroke-width="4.6" fill="none" stroke-linecap="round" stroke-linejoin="round"/>
<path d="M1450.0,1097.0 L1442.8,1113.2 L1442.7,1121.3 L1432.0,1151.0" stroke="#f4a07e" stroke-width="1.8" fill="none" stroke-linecap="round" stroke-linejoin="round" opacity=".9"/>
<path d="M1534.8,1186.0 L1530.6,1199.8 L1532.0,1206.7 L1526.8,1232.0" stroke="#4a8cc0" stroke-width="4.6" fill="none" stroke-linecap="round" stroke-linejoin="round"/>
<path d="M1534.8,1186.0 L1530.6,1199.8 L1532.0,1206.7 L1526.8,1232.0" stroke="#b5e2f7" stroke-width="1.8" fill="none" stroke-linecap="round" stroke-linejoin="round" opacity=".9"/>
<path d="M1550.8,1184.0 L1546.0,1198.4 L1547.1,1205.6 L1540.8,1232.0" stroke="#4a8cc0" stroke-width="4.6" fill="none" stroke-linecap="round" stroke-linejoin="round"/>
<path d="M1550.8,1184.0 L1546.0,1198.4 L1547.1,1205.6 L1540.8,1232.0" stroke="#b5e2f7" stroke-width="1.8" fill="none" stroke-linecap="round" stroke-linejoin="round" opacity=".9"/>
<path d="M1566.8,1182.0 L1562.0,1197.0 L1563.1,1204.5 L1556.8,1232.0" stroke="#b9404a" stroke-width="4.6" fill="none" stroke-linecap="round" stroke-linejoin="round"/>
<path d="M1566.8,1182.0 L1562.0,1197.0 L1563.1,1204.5 L1556.8,1232.0" stroke="#f4a07e" stroke-width="1.8" fill="none" stroke-linecap="round" stroke-linejoin="round" opacity=".9"/>
<text x="0" y="0" transform="translate(1622,1376) rotate(-90)" font-family="Liberation Sans" font-size="8.5" fill="#888" textLength="170" lengthAdjust="spacingAndGlyphs">Copyright © McGraw-Hill Education</text>
</svg>
<div class=t style='left:76.0px;top:91.8px;font-family:"Liberation Sans",sans-serif;font-size:39px;font-weight:bold;color:#231f20;transform:scaleX(0.8030);transform-origin:0 0;-webkit-text-stroke:0.6px #231f20;'>Visualizing</div>
<div class=t style='left:76.0px;top:134.8px;font-family:"Liberation Sans",sans-serif;font-size:39px;font-weight:bold;color:#231f20;transform:scaleX(0.7963);transform-origin:0 0;-webkit-text-stroke:0.6px #231f20;'>Nondisjunction</div>
<div class=t style='left:603.0px;top:75.5px;font-family:"Liberation Sans",sans-serif;font-size:43px;font-weight:bold;color:#231f20;transform:scaleX(0.8694);transform-origin:0 0;-webkit-text-stroke:0.7px #231f20;'>Visualizing Nondisjunction</div>
<div class=t style='left:76.0px;top:216.5px;font-family:"Liberation Sans",sans-serif;font-size:30px;font-weight:bold;color:#9b1c3f;transform:scaleX(0.8998);transform-origin:0 0;-webkit-text-stroke:0.6px #9b1c3f;'>Purpose</div>
<div class=t style='left:76.0px;top:255.2px;font-family:"Liberation Serif",serif;font-size:25px;font-weight:normal;color:#55534f;transform:scaleX(1.1265);transform-origin:0 0;'>Students will illustrate how</div>
<div class=t style='left:76.0px;top:288.2px;font-family:"Liberation Serif",serif;font-size:25px;font-weight:normal;color:#55534f;transform:scaleX(1.1296);transform-origin:0 0;'>nondisjunction occurs either in</div>
<div class=t style='left:76.0px;top:320.2px;font-family:"Liberation Serif",serif;font-size:25px;font-weight:normal;color:#55534f;transform:scaleX(1.0658);transform-origin:0 0;'>meiosis I or meiosis II, causing</div>
<div class=t style='left:76.0px;top:354.2px;font-family:"Liberation Serif",serif;font-size:25px;font-weight:normal;color:#55534f;transform:scaleX(1.0887);transform-origin:0 0;'>Down syndrome.</div>
<div class=t style='left:76.0px;top:427.5px;font-family:"Liberation Sans",sans-serif;font-size:30px;font-weight:bold;color:#1b6ab5;transform:scaleX(0.9131);transform-origin:0 0;-webkit-text-stroke:0.6px #1b6ab5;'>Develop Concepts</div>
<div class=t style='left:280.0px;top:464.6px;font-family:"Liberation Sans",sans-serif;font-size:24px;font-weight:bold;color:#231f20;transform:scaleX(1.0270);transform-origin:0 0;'>Research</div>
<div class=t style='left:76.0px;top:498.2px;font-family:"Liberation Serif",serif;font-size:25px;font-weight:normal;color:#55534f;transform:scaleX(1.1200);transform-origin:0 0;'>Organize students into groups of</div>
<div class=t style='left:76.0px;top:530.2px;font-family:"Liberation Serif",serif;font-size:25px;font-weight:normal;color:#55534f;transform:scaleX(1.1368);transform-origin:0 0;'>three and have them research tests</div>
<div class=t style='left:76.0px;top:564.2px;font-family:"Liberation Serif",serif;font-size:25px;font-weight:normal;color:#55534f;transform:scaleX(1.1047);transform-origin:0 0;'>for detecting chromosomal abnor-</div>
<div class=t style='left:76.0px;top:597.2px;font-family:"Liberation Serif",serif;font-size:25px;font-weight:normal;color:#55534f;transform:scaleX(1.1018);transform-origin:0 0;'>malities associated with Down syn-</div>
<div class=t style='left:76.0px;top:630.2px;font-family:"Liberation Serif",serif;font-size:25px;font-weight:normal;color:#55534f;transform:scaleX(1.1074);transform-origin:0 0;'>drome. Have them create a visual</div>
<div class=t style='left:76.0px;top:664.2px;font-family:"Liberation Serif",serif;font-size:25px;font-weight:normal;color:#55534f;transform:scaleX(1.1230);transform-origin:0 0;'>report on their findings, which</div>
<div class=t style='left:76.0px;top:696.2px;font-family:"Liberation Serif",serif;font-size:25px;font-weight:normal;color:#55534f;transform:scaleX(1.1248);transform-origin:0 0;'>should also include the use of</div>
<div class=t style='left:76.0px;top:729.2px;font-family:"Liberation Serif",serif;font-size:25px;font-weight:normal;color:#55534f;transform:scaleX(1.1057);transform-origin:0 0;'>genetic counseling.</div>
<div class=t style='left:603.0px;top:209.8px;font-family:"Liberation Sans",sans-serif;font-size:19px;font-weight:bold;color:#2b2b2b;transform:scaleX(1.0534);transform-origin:0 0;-webkit-text-stroke:0.5px #2b2b2b;'>Figure 18</div>
<div class=t style='left:603.0px;top:239.8px;font-family:"Liberation Sans",sans-serif;font-size:15.5px;font-weight:normal;color:#8c8c8c;transform:scaleX(0.9983);transform-origin:0 0;'>Gametes with abnormal numbers of chromosomes can result from nondisjunction during meiosis. The orange</div>
<div class=t style='left:603.0px;top:263.8px;font-family:"Liberation Sans",sans-serif;font-size:15.5px;font-weight:normal;color:#8c8c8c;transform:scaleX(1.0040);transform-origin:0 0;'>chromosomes come from one parent, and the blue chromosomes come from the other parent.</div>
<div class=t style='left:741.0px;top:293.0px;font-family:"Liberation Sans",sans-serif;font-size:16.5px;font-weight:bold;color:#2a2a2a;transform:scaleX(0.8950);transform-origin:0 0;'>Nondisjunction in meiosis I</div>
<div class=t style='left:1261.0px;top:293.0px;font-family:"Liberation Sans",sans-serif;font-size:16.5px;font-weight:bold;color:#2a2a2a;transform:scaleX(0.9082);transform-origin:0 0;'>Nondisjunction in meiosis II</div>
<div class=t style='left:567.0px;top:1510.7px;font-family:"Liberation Sans",sans-serif;font-size:31px;font-weight:bold;color:#ffffff;transform:scaleX(1.0469);transform-origin:0 0;'>Demonstration</div>
<div class=t style='left:522.0px;top:1571.0px;font-family:"Liberation Sans",sans-serif;font-size:27px;font-weight:bold;color:#d9202e;transform:scaleX(0.9832);transform-origin:0 0;'>Sock Nondisjunction</div>
<div class=t style='left:801.0px;top:1571.6px;font-family:"Liberation Serif",serif;font-size:27px;font-weight:normal;color:#565656;transform:scaleX(1.0612);transform-origin:0 0;'>Use two pairs of socks to represent a pair of chromosomes</div>
<div class=t style='left:522.0px;top:1604.6px;font-family:"Liberation Serif",serif;font-size:27px;font-weight:normal;color:#565656;transform:scaleX(1.0549);transform-origin:0 0;'>(each consisting of two chromatids). Place a small piece of hook-and-loop tape on each</div>
<div class=t style='left:522.0px;top:1637.6px;font-family:"Liberation Serif",serif;font-size:27px;font-weight:normal;color:#565656;transform:scaleX(1.0883);transform-origin:0 0;'>sock to keep the pairs together as you hold them up to the class. The two pairs</div>
<div class=t style='left:522.0px;top:1670.6px;font-family:"Liberation Serif",serif;font-size:27px;font-weight:normal;color:#565656;transform:scaleX(1.0703);transform-origin:0 0;'>together represent a pair of chromosomes that line up during metaphase of meiosis I.</div>
<div class=t style='left:522.0px;top:1703.6px;font-family:"Liberation Serif",serif;font-size:27px;font-weight:normal;color:#565656;transform:scaleX(1.0551);transform-origin:0 0;'>Demonstrate nondisjunction during meiosis II as one of the pairs of socks fail to sepa-</div>
<div class=t style='left:522.0px;top:1736.6px;font-family:"Liberation Serif",serif;font-size:27px;font-weight:normal;color:#565656;transform:scaleX(1.0755);transform-origin:0 0;'>rate correctly. Two of the resulting four gametes have one sock chromatid each, one</div>
<div class=t style='left:522.0px;top:1769.6px;font-family:"Liberation Serif",serif;font-size:27px;font-weight:normal;color:#565656;transform:scaleX(1.0707);transform-origin:0 0;'>has two socks, and the fourth has none. Est. time: 15 min</div>
<div class=t style='left:67.5px;top:1938.8px;font-family:"Liberation Sans",sans-serif;font-size:25px;font-weight:bold;color:#231f20;transform:scaleX(1.0787);transform-origin:0 0;'>20</div>
<div class=t style='left:123.5px;top:1942.6px;font-family:"Liberation Sans",sans-serif;font-size:20.5px;font-weight:bold;color:#3a3a3a;transform:scaleX(0.8883);transform-origin:0 0;-webkit-text-stroke:0.3px #3a3a3a;'>Chapter 1</div>
<div class=t style='left:215.0px;top:1943.0px;font-family:"Liberation Sans",sans-serif;font-size:20px;font-weight:bold;color:#3a3a3a;transform:scaleX(0.9978);transform-origin:0 0;'>•</div>
<div class=t style='left:229.0px;top:1942.6px;font-family:"Liberation Sans",sans-serif;font-size:20.5px;font-weight:normal;color:#555555;transform:scaleX(0.9260);transform-origin:0 0;'>Complex Inheritance and Human Heredity</div>
<div class=t style='left:602.0px;top:1409.3px;font-family:"Liberation Sans",sans-serif;font-size:15.5px;font-weight:bold;color:#2a2a2a;transform:scaleX(1.2580);transform-origin:0 0;'>20</div>
<div class=t style='left:640.6px;top:1410.2px;font-family:"Liberation Sans",sans-serif;font-size:14.5px;font-weight:bold;color:#2a2a2a;transform:scaleX(0.9927);transform-origin:0 0;'>Chapter 1</div>
<div class=t style='left:713.0px;top:1409.3px;font-family:"Liberation Sans",sans-serif;font-size:15.5px;font-weight:bold;color:#2a2a2a;transform:scaleX(1.1034);transform-origin:0 0;'>•</div>
<div class=t style='left:722.0px;top:1410.2px;font-family:"Liberation Sans",sans-serif;font-size:14.5px;font-weight:normal;color:#6a5a20;transform:scaleX(0.9556);transform-origin:0 0;'>Complex Inheritance and Human Heredity</div>
<div class=t style='left:787.5px;top:514.7px;font-family:"Liberation Sans",sans-serif;font-size:16.5px;font-weight:normal;color:#474747;transform:scaleX(0.8962);transform-origin:0 0;'>Nondisjunction</div>
<div class=t style='left:1067.5px;top:528.9px;font-family:"Liberation Sans",sans-serif;font-size:16px;font-weight:bold;color:#2a2a2a;transform:scaleX(0.9027);transform-origin:0 0;'>Meiosis I</div>
<div class=t style='left:1066.0px;top:716.9px;font-family:"Liberation Sans",sans-serif;font-size:16px;font-weight:bold;color:#2a2a2a;transform:scaleX(0.9163);transform-origin:0 0;'>Meiosis II</div>
<div class=t style='left:1346.0px;top:683.2px;font-family:"Liberation Sans",sans-serif;font-size:16.5px;font-weight:normal;color:#aaaaaa;transform:scaleX(0.8777);transform-origin:0 0;'>Nondisjunction</div>
<div class=t style='left:699.0px;top:730.7px;font-family:"Liberation Sans",sans-serif;font-size:16.5px;font-weight:normal;color:#474747;transform:scaleX(0.7977);transform-origin:0 0;'>Eggs</div>
<div class=t style='left:949.0px;top:730.7px;font-family:"Liberation Sans",sans-serif;font-size:16.5px;font-weight:normal;color:#474747;transform:scaleX(0.7977);transform-origin:0 0;'>Eggs</div>
<div class=t style='left:1222.0px;top:730.7px;font-family:"Liberation Sans",sans-serif;font-size:16.5px;font-weight:normal;color:#474747;transform:scaleX(0.7977);transform-origin:0 0;'>Eggs</div>
<div class=t style='left:1475.0px;top:730.7px;font-family:"Liberation Sans",sans-serif;font-size:16.5px;font-weight:normal;color:#474747;transform:scaleX(0.7977);transform-origin:0 0;'>Eggs</div>
<div class=t style='left:820.0px;top:898.2px;font-family:"Liberation Sans",sans-serif;font-size:16.5px;font-weight:normal;color:#474747;transform:scaleX(0.8770);transform-origin:0 0;'>Fertilization</div>
<div class=t style='left:1342.0px;top:898.2px;font-family:"Liberation Sans",sans-serif;font-size:16.5px;font-weight:normal;color:#474747;transform:scaleX(0.8770);transform-origin:0 0;'>Fertilization</div>
<div class=t style='left:682.5px;top:1043.7px;font-family:"Liberation Sans",sans-serif;font-size:16.5px;font-weight:normal;color:#474747;transform:scaleX(0.8688);transform-origin:0 0;'>Zygotes</div>
<div class=t style='left:937.5px;top:1043.7px;font-family:"Liberation Sans",sans-serif;font-size:16.5px;font-weight:normal;color:#474747;transform:scaleX(0.8688);transform-origin:0 0;'>Zygotes</div>
<div class=t style='left:1207.5px;top:1043.7px;font-family:"Liberation Sans",sans-serif;font-size:16.5px;font-weight:normal;color:#474747;transform:scaleX(0.8688);transform-origin:0 0;'>Zygotes</div>
<div class=t style='left:1464.5px;top:1043.7px;font-family:"Liberation Sans",sans-serif;font-size:16.5px;font-weight:normal;color:#474747;transform:scaleX(0.8688);transform-origin:0 0;'>Zygotes</div>
<div class=t style='left:628.0px;top:1181.2px;font-family:"Liberation Sans",sans-serif;font-size:16.5px;font-weight:normal;color:#474747;transform:scaleX(0.8267);transform-origin:0 0;'>Trisomy</div>
<div class=t style='left:628.0px;top:1199.7px;font-family:"Liberation Sans",sans-serif;font-size:16.5px;font-weight:normal;color:#474747;transform:scaleX(0.9968);transform-origin:0 0;'>(2n+1)</div>
<div class=t style='left:736.5px;top:1262.2px;font-family:"Liberation Sans",sans-serif;font-size:16.5px;font-weight:normal;color:#474747;transform:scaleX(0.8267);transform-origin:0 0;'>Trisomy</div>
<div class=t style='left:736.5px;top:1281.2px;font-family:"Liberation Sans",sans-serif;font-size:16.5px;font-weight:normal;color:#474747;transform:scaleX(0.9968);transform-origin:0 0;'>(2n+1)</div>
<div class=t style='left:877.0px;top:1181.2px;font-family:"Liberation Sans",sans-serif;font-size:16.5px;font-weight:normal;color:#474747;transform:scaleX(0.8674);transform-origin:0 0;'>Monosomy</div>
<div class=t style='left:887.0px;top:1199.7px;font-family:"Liberation Sans",sans-serif;font-size:16.5px;font-weight:normal;color:#474747;transform:scaleX(0.8791);transform-origin:0 0;'>(2n – 1)</div>
<div class=t style='left:984.0px;top:1262.2px;font-family:"Liberation Sans",sans-serif;font-size:16.5px;font-weight:normal;color:#474747;transform:scaleX(0.8674);transform-origin:0 0;'>Monosomy</div>
<div class=t style='left:994.0px;top:1281.2px;font-family:"Liberation Sans",sans-serif;font-size:16.5px;font-weight:normal;color:#474747;transform:scaleX(0.8791);transform-origin:0 0;'>(2n – 1)</div>
<div class=t style='left:1129.1px;top:1180.7px;font-family:"Liberation Sans",sans-serif;font-size:16.5px;font-weight:normal;color:#474747;transform:scaleX(0.9197);transform-origin:0 0;'>Normal diploid</div>
<div class=t style='left:1165.1px;top:1200.2px;font-family:"Liberation Sans",sans-serif;font-size:16.5px;font-weight:normal;color:#474747;transform:scaleX(0.8520);transform-origin:0 0;'>(2n)</div>
<div class=t style='left:1235.9px;top:1261.7px;font-family:"Liberation Sans",sans-serif;font-size:16.5px;font-weight:normal;color:#474747;transform:scaleX(0.9197);transform-origin:0 0;'>Normal diploid</div>
<div class=t style='left:1271.9px;top:1280.7px;font-family:"Liberation Sans",sans-serif;font-size:16.5px;font-weight:normal;color:#474747;transform:scaleX(0.8520);transform-origin:0 0;'>(2n)</div>
<div class=t style='left:1401.5px;top:1181.2px;font-family:"Liberation Sans",sans-serif;font-size:16.5px;font-weight:normal;color:#474747;transform:scaleX(0.8674);transform-origin:0 0;'>Monosomy</div>
<div class=t style='left:1411.5px;top:1199.7px;font-family:"Liberation Sans",sans-serif;font-size:16.5px;font-weight:normal;color:#474747;transform:scaleX(0.8791);transform-origin:0 0;'>(2n – 1)</div>
<div class=t style='left:1519.0px;top:1262.2px;font-family:"Liberation Sans",sans-serif;font-size:16.5px;font-weight:normal;color:#474747;transform:scaleX(0.8267);transform-origin:0 0;'>Trisomy</div>
<div class=t style='left:1519.0px;top:1281.2px;font-family:"Liberation Sans",sans-serif;font-size:16.5px;font-weight:normal;color:#474747;transform:scaleX(0.9968);transform-origin:0 0;'>(2n+1)</div>
</body></html>
